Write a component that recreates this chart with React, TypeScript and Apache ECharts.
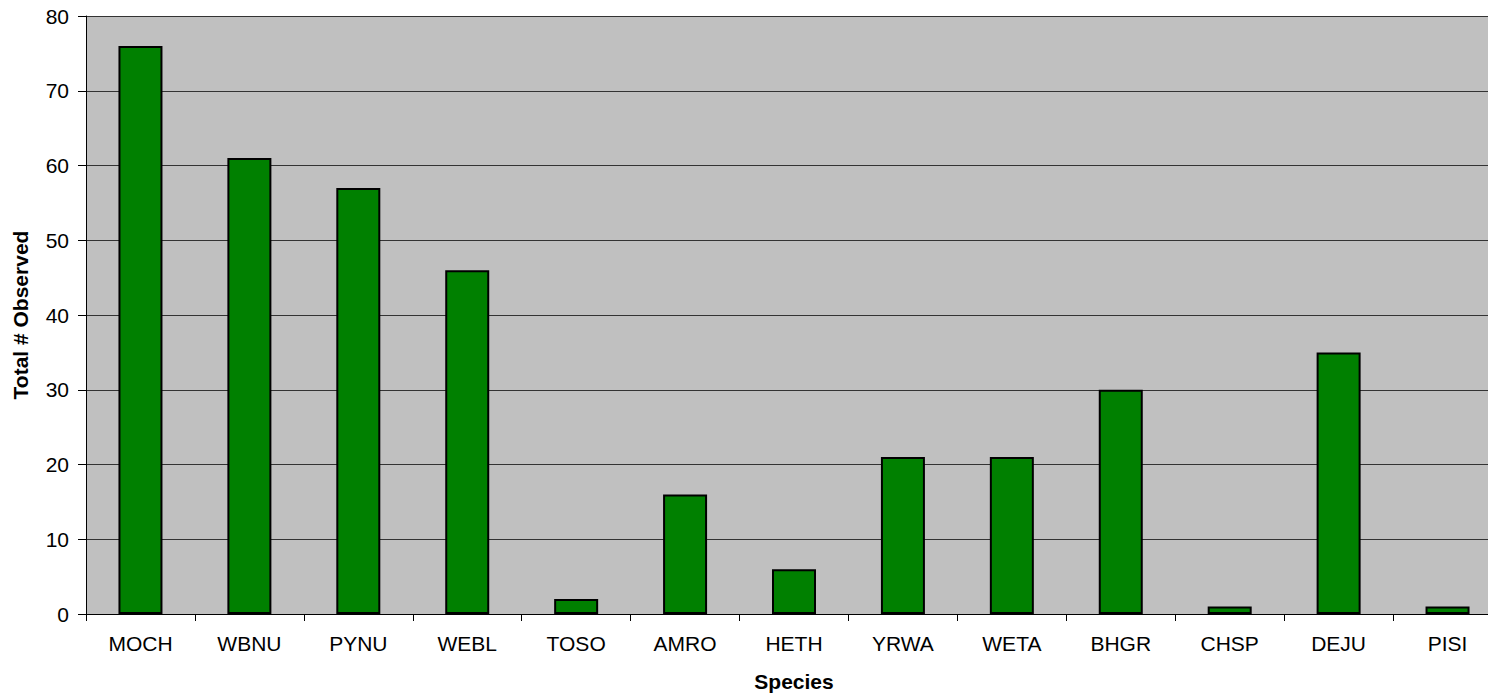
import React, { useEffect, useRef } from "react";
import * as echarts from "echarts";

const species = ["MOCH", "WBNU", "PYNU", "WEBL", "TOSO", "AMRO", "HETH", "YRWA", "WETA", "BHGR", "CHSP", "DEJU", "PISI"];
const totals = [76, 61, 57, 46, 2, 16, 6, 21, 21, 30, 1, 35, 1];

export default function App() {
  const ref = useRef<HTMLDivElement>(null);
  useEffect(() => {
    const chart = echarts.init(ref.current!, null, { renderer: "svg" });
    const font = "Liberation Sans, Arial, sans-serif";
    chart.setOption({
      animation: false,
      backgroundColor: "#ffffff",
      grid: { left: 86, top: 16, width: 1416, height: 598, backgroundColor: "#c0c0c0", show: true, borderWidth: 0 },
      xAxis: {
        type: "category",
        data: species,
        name: "Species",
        nameLocation: "middle",
        nameGap: 57,
        nameTextStyle: { fontFamily: font, fontSize: 21, fontWeight: "bold", color: "#000" },
        axisLine: { lineStyle: { color: "#000", width: 1 } },
        axisTick: { show: true, length: 7, lineStyle: { color: "#000" } },
        axisLabel: { fontFamily: font, fontSize: 21, color: "#000", margin: 19 },
      },
      yAxis: {
        type: "value",
        min: 0,
        max: 80,
        interval: 10,
        name: "Total # Observed",
        nameLocation: "middle",
        nameGap: 55,
        nameTextStyle: { fontFamily: font, fontSize: 21, fontWeight: "bold", color: "#000" },
        axisLine: { show: true, lineStyle: { color: "#000", width: 1 } },
        axisTick: { show: true, length: 8, lineStyle: { color: "#000" } },
        axisLabel: { fontFamily: font, fontSize: 21, color: "#000", margin: 17 },
        splitLine: { show: true, lineStyle: { color: "#333", width: 1 } },
      },
      series: [
        {
          type: "bar",
          data: totals,
          barWidth: 44,
          itemStyle: { color: "#008000", borderColor: "#000", borderWidth: 2 },
        },
      ],
    });
    return () => chart.dispose();
  }, []);
  return (
    <div style={{ position: "fixed", left: 0, top: 0, width: 1488, height: 698, overflow: "hidden", background: "#fff" }}>
      <div ref={ref} style={{ width: 1510, height: 698 }} />
    </div>
  );
}
